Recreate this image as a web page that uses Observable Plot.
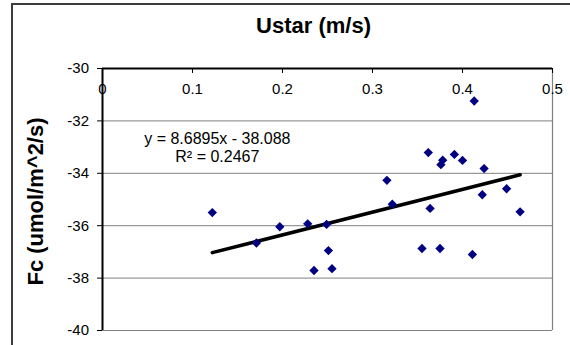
<!DOCTYPE html>
<html><head><meta charset="utf-8">
<script src="https://cdn.jsdelivr.net/npm/d3@7"></script>
<script src="https://cdn.jsdelivr.net/npm/@observablehq/plot@0.6"></script>
<style>
body{margin:0;background:#fff;}
#wrap{position:relative;width:570px;height:345px;overflow:hidden;background:#fff;}
#wrap svg{position:absolute;left:0;top:0;}
#border{position:absolute;left:11px;top:3px;width:620px;height:400px;border-left:2px solid #3c3c3c;border-top:2px solid #3c3c3c;pointer-events:none;}
</style></head><body><div id="wrap"></div>
<script>
const ustar = [0.122,0.171,0.197,0.228,0.249,0.235,0.251,0.255,0.316,0.322,0.362,0.364,0.355,0.376,0.378,0.375,0.391,0.400,0.413,0.411,0.424,0.422,0.449,0.464];
const fc    = [-35.50,-36.66,-36.04,-35.93,-35.95,-37.71,-36.95,-37.64,-34.27,-35.18,-33.21,-35.34,-36.87,-33.67,-33.50,-36.87,-33.28,-33.51,-31.24,-37.10,-33.82,-34.82,-34.59,-35.47];
const xTicks = [0,0.1,0.2,0.3,0.4,0.5];
const yTicks = [-40,-38,-36,-34,-32,-30];
const slope = 8.6895, intercept = -38.088;
const eqLines = ["y = 8.6895x - 38.088", "R\u00B2 = 0.2467"];
const title = "Ustar (m/s)";
const yTitle = "Fc (umol/m^2/s)";

const data = ustar.map((x,i)=>({x, y: fc[i]}));
const trend = d3.extent(ustar).map(x=>({x, y: slope*x + intercept}));
const font = "'Liberation Sans', Arial, Helvetica, sans-serif";

const plot = Plot.plot({
  width:570, height:345,
  marginLeft:102, marginRight:18, marginTop:68, marginBottom:15,
  x:{domain:[0,0.5], axis:null},
  y:{domain:[-40,-30], axis:null},
  style:{fontFamily:font, background:"transparent", color:"black"},
  marks:[
    Plot.ruleY(yTicks.slice(1,-1), {stroke:"#808080", strokeWidth:1}),
    Plot.ruleX([0.5], {stroke:"#808080", strokeWidth:1.2}),
    Plot.ruleY([-40], {stroke:"#808080", strokeWidth:1.2}),
    Plot.ruleX(xTicks, {x:d=>d, y1:()=>-30, y2:()=>-30.19, stroke:"black", strokeWidth:1}),
    Plot.ruleY([-30], {stroke:"black", strokeWidth:2}),
    Plot.ruleX([0], {stroke:"black", strokeWidth:2}),
    Plot.axisY({ticks:yTicks, tickSize:5, tickPadding:8.5, fontSize:15, tickFormat:d=>String(d), label:null}),
    Plot.text(xTicks, {x:d=>d, y:()=>-30, dy:20.5, text:d=>String(d), fontSize:15, lineAnchor:"middle"}),
    Plot.line(trend, {x:"x", y:"y", stroke:"black", strokeWidth:3.5}),
    Plot.dot(data, {x:"x", y:"y", symbol:"diamond2", r:4.2, fill:"#000080", stroke:"none"}),
    Plot.text([eqLines.join("\n")], {x:()=>0.1276, y:()=>-33.01, text:d=>d, fontSize:16, lineHeight:1.15, lineAnchor:"middle", textAnchor:"middle"}),
    Plot.text([title], {frameAnchor:"top", dx:-14, dy:-43, text:d=>d, fontSize:22, fontWeight:"bold", lineAnchor:"middle", textAnchor:"middle"}),
    Plot.text([yTitle], {frameAnchor:"left", dx:-67, dy:2, rotate:-90, text:d=>d, fontSize:22, fontWeight:"bold", lineAnchor:"middle", textAnchor:"middle"})
  ]
});
const wrap = document.getElementById("wrap");
wrap.appendChild(plot);
const b = document.createElement("div"); b.id="border"; wrap.appendChild(b);
</script>
</body></html>
